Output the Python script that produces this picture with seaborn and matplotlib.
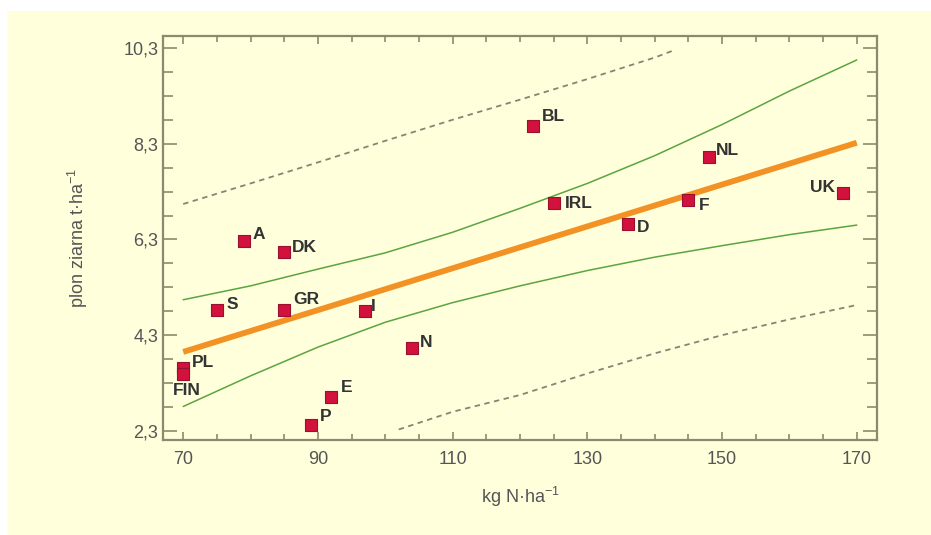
import matplotlib
matplotlib.use("Agg")
import matplotlib.pyplot as plt
import numpy as np
import pandas as pd
import seaborn as sns
from matplotlib.patches import Rectangle
from matplotlib.ticker import FixedLocator

# countries: N fertilisation (kg N/ha) vs grain yield (t/ha)
countries = ["BL", "NL", "UK", "IRL", "F", "D", "A", "DK", "S", "GR", "I", "N", "PL", "FIN", "E", "P"]
nitrogen = [122, 148, 168, 125, 145, 136, 79, 85, 75, 85, 97, 104, 70, 70, 92, 89]
grain_yield = [8.67, 8.02, 7.27, 7.06, 7.13, 6.63, 6.27, 6.04, 4.83, 4.83, 4.81, 4.04, 3.62, 3.49, 3.01, 2.43]

# label offsets in pixels (dx, dy), ha
label_pos = {
    "BL": (8, 9, "left"), "NL": (7, 7, "left"), "UK": (-8, 6, "right"),
    "IRL": (11, 0, "left"), "F": (10, -6, "left"), "D": (9, -4, "left"),
    "A": (9, 6, "left"), "DK": (8, 4, "left"), "S": (10, 5, "left"),
    "GR": (9, 10, "left"), "I": (6, 4, "left"), "N": (8, 5, "left"),
    "PL": (9, 5, "left"), "FIN": (4, -17, "center"), "E": (9, 9, "left"),
    "P": (9, 8, "left"),
}

# regression line
reg_x = [70, 170]
reg_y = [3.95, 8.32]

# confidence band (green)
band_x = [70, 80, 90, 100, 110, 120, 130, 140, 150, 160, 170]
band_upper = [5.04, 5.33, 5.68, 6.02, 6.45, 6.95, 7.47, 8.05, 8.70, 9.40, 10.05]
band_lower = [2.81, 3.45, 4.05, 4.57, 4.98, 5.33, 5.65, 5.93, 6.17, 6.40, 6.60]

# prediction band (dashed)
pred_upper_x = [70, 80, 90, 100, 110, 120, 130, 140, 143]
pred_upper_y = [7.04, 7.47, 7.91, 8.36, 8.80, 9.22, 9.65, 10.10, 10.26]
pred_lower_x = [102, 110, 120, 130, 140, 150, 160, 170]
pred_lower_y = [2.33, 2.70, 3.05, 3.50, 3.92, 4.30, 4.63, 4.93]

# ticks
x_ticks = [70, 90, 110, 130, 150, 170]
x_minor = list(range(70, 171, 5))
y_ticks = [2.3, 4.3, 6.3, 8.3, 10.3]
y_tick_labels = ["2,3", "4,3", "6,3", "8,3", "10,3"]

CREAM = "#FFFFDC"
SPINE = "#8C8A6E"
TEXT = "#555555"

sns.set_style("ticks")
plt.rcParams["font.family"] = ["Liberation Sans", "DejaVu Sans"]
plt.rcParams["mathtext.default"] = "regular"

fig = plt.figure(figsize=(9.31, 5.35), dpi=100)
fig.patch.set_facecolor("white")
fig.patches.append(Rectangle((7 / 931, 0), 1, 1 - 11 / 535, transform=fig.transFigure,
                             facecolor=CREAM, edgecolor="none", zorder=-10))
ax = fig.add_axes([163 / 931, 1 - 440 / 535, (877 - 163) / 931, (440 - 36) / 535])
ax.set_facecolor(CREAM)

points = pd.DataFrame({"country": countries, "N": nitrogen, "yield": grain_yield})

sns.lineplot(x=pred_upper_x, y=pred_upper_y, ax=ax, color="#8A8272", lw=1.3,
             linestyle=(0, (3, 2.5)), zorder=2)
sns.lineplot(x=pred_lower_x, y=pred_lower_y, ax=ax, color="#8A8272", lw=1.3,
             linestyle=(0, (3, 2.5)), zorder=2)
sns.lineplot(x=band_x, y=band_upper, ax=ax, color="#5AA540", lw=1.1, zorder=2)
sns.lineplot(x=band_x, y=band_lower, ax=ax, color="#5AA540", lw=1.1, zorder=2)
sns.lineplot(x=reg_x, y=reg_y, ax=ax, color="#F39224", lw=4.2, zorder=3,
             solid_capstyle="butt")
sns.scatterplot(data=points, x="N", y="yield", ax=ax, marker="s", s=70,
                color="#D2123C", edgecolor="#9A1030", linewidth=0.8, zorder=4)

for c, xv, yv in zip(countries, nitrogen, grain_yield):
    dx, dy, ha = label_pos[c]
    ax.annotate(c, (xv, yv), xytext=(dx, dy), textcoords="offset pixels",
                ha=ha, va="center", fontsize=12.5, fontweight="bold",
                color="#333333", zorder=5)

ax.set_xlim(67.0, 173.0)
ax.set_ylim(2.11, 10.55)
ax.xaxis.set_major_locator(FixedLocator(x_ticks))
ax.xaxis.set_minor_locator(FixedLocator(x_minor))
ax.set_yticks(y_ticks)
ax.set_yticks(np.arange(2.3, 10.31, 0.5), minor=True)
ax.set_yticklabels(y_tick_labels)

ax.tick_params(axis="both", which="both", direction="in", top=True, right=True,
               color=SPINE, labelcolor=TEXT, labelsize=13, width=1.2)
ax.tick_params(axis="y", which="major", length=10)
ax.tick_params(axis="y", which="minor", length=7)
ax.tick_params(axis="x", which="major", length=6)
ax.tick_params(axis="x", which="minor", length=4)
ax.tick_params(axis="x", pad=8)
for s in ax.spines.values():
    s.set_color(SPINE)
    s.set_linewidth(1.6)

ax.set_xlabel("kg N·ha$^{-1}$", fontsize=13, color=TEXT, labelpad=12)
ax.set_ylabel("plon ziarna t·ha$^{-1}$", fontsize=13, color=TEXT, labelpad=24)

fig.savefig("out.png", dpi=100, facecolor=fig.get_facecolor())
